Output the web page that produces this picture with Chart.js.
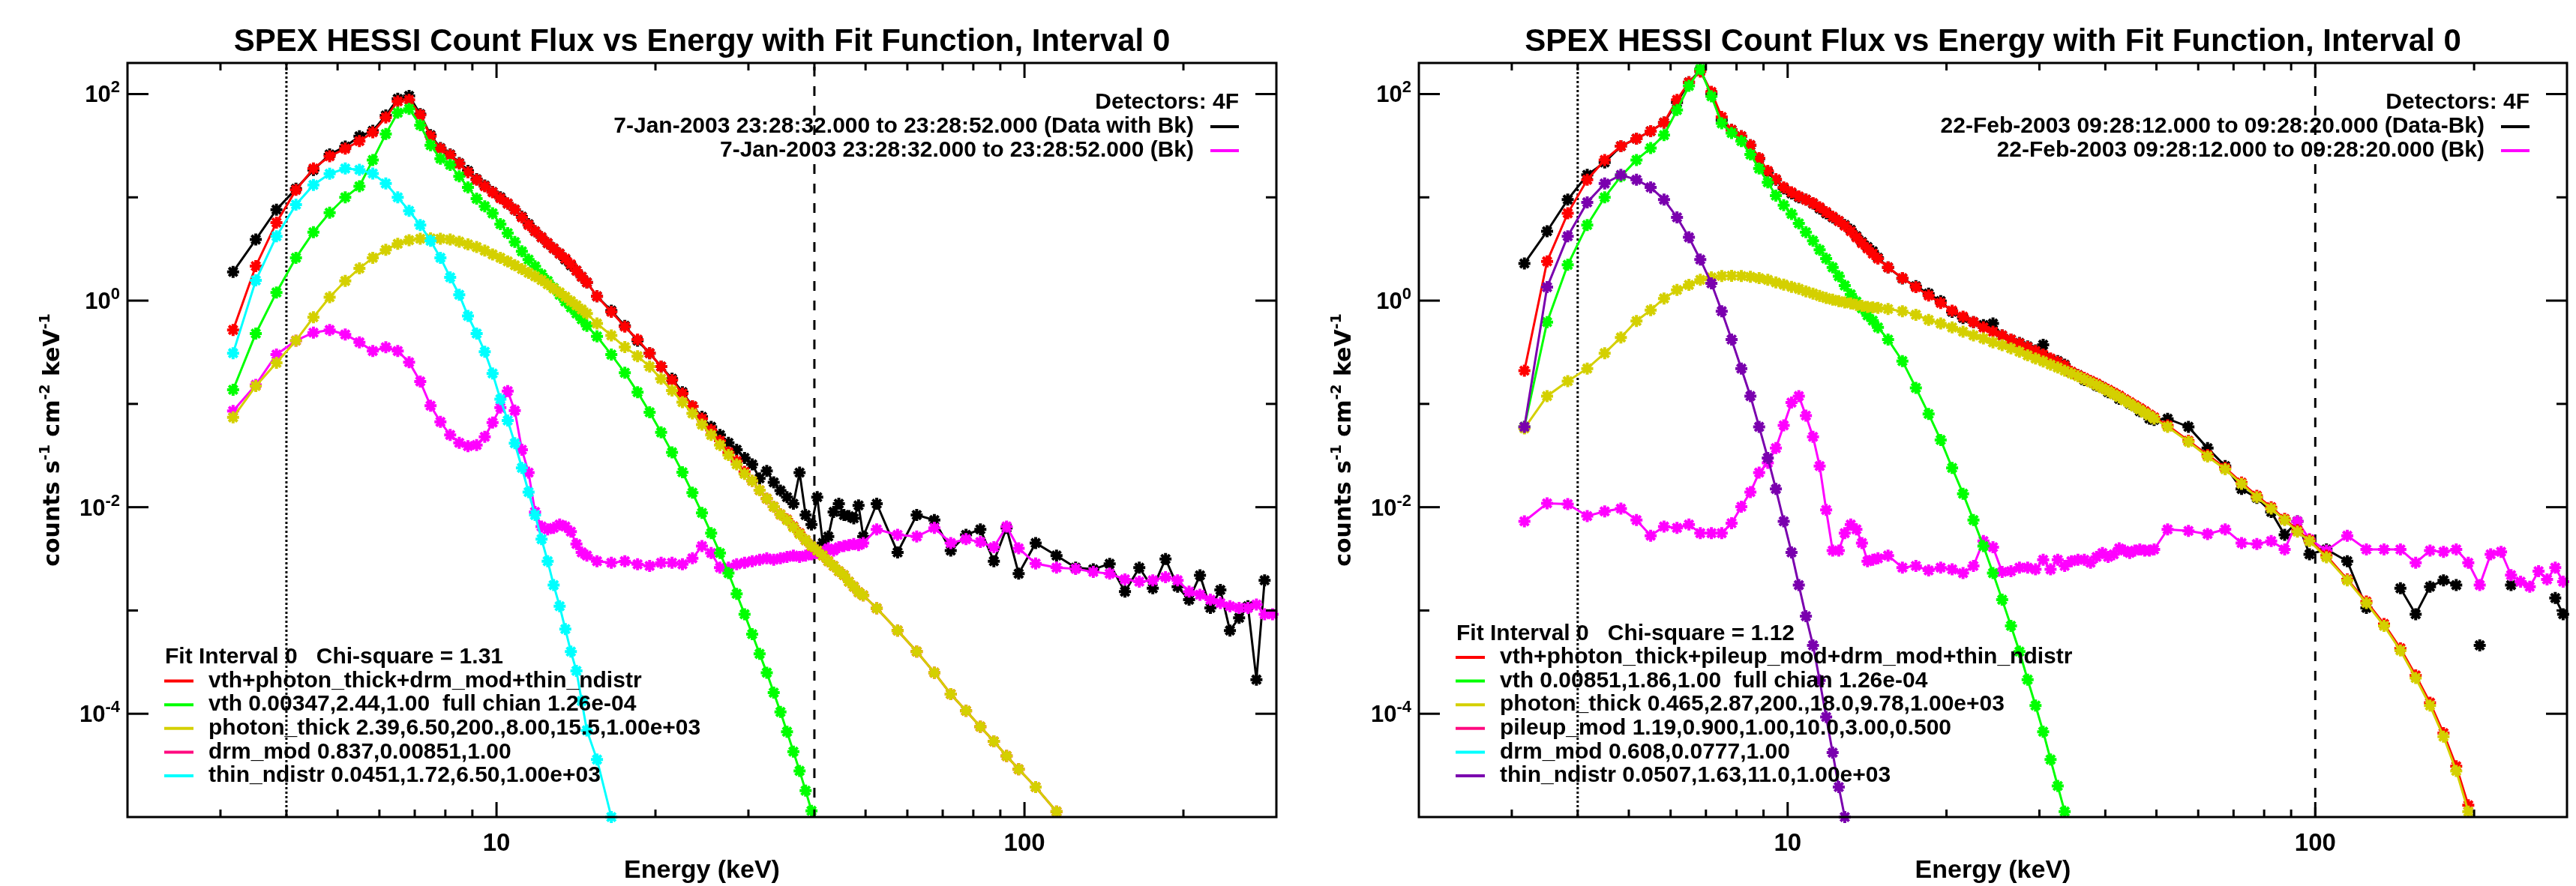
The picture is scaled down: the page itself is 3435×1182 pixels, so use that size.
<!DOCTYPE html>
<html>
<head>
<meta charset="utf-8">
<script src="https://cdn.jsdelivr.net/npm/chart.js@4.4.0/dist/chart.umd.min.js"></script>
<style>
  body { margin: 0; background: #fff; }
  #wrap { position: relative; width: 3435px; height: 1182px; }
  canvas { position: absolute; top: 0; }
</style>
</head>
<body>
<div id="wrap">
  <canvas id="left" width="1718" height="1182" style="left:0px"></canvas>
  <canvas id="right" width="1717" height="1182" style="left:1718px"></canvas>
</div>
<script>
// energy bin centres (keV), shared by both panels
const energies = [3.17,3.5,3.83,4.17,4.5,4.83,5.17,5.5,5.83,6.17,
  6.5,6.83,7.17,7.5,7.83,8.17,8.5,8.83,9.17,9.5,
  9.83,10.17,10.5,10.83,11.17,11.5,11.83,12.17,12.5,12.83,
  13.17,13.5,13.83,14.17,14.5,14.83,15.5,16.5,17.5,18.5,
  19.5,20.5,21.5,22.5,23.5,24.5,25.5,26.5,27.5,28.5,
  29.5,30.5,31.5,32.5,33.5,34.5,35.5,36.5,37.5,38.5,
  39.5,40.5,41.5,42.5,43.5,44.5,45.5,46.5,47.5,48.5,
  49.5,52.5,57.5,62.5,67.5,72.5,77.5,82.5,87.5,92.5,
  97.5,105,115,125,135,145,155,165,175,185,
  195,205,215,225,235,245,255,265,275,285,
  295];

// left panel: 7-Jan-2003
const leftData = [1.9,3.9,7.6,12.1,18.4,26,31,39,44,62,
  90,96,64,40,30,26,21.5,18,15,13,
  11.3,10,8.7,7.6,6.5,5.5,4.7,4.1,3.6,3.2,
  2.85,2.5,2.2,1.95,1.7,1.5,1.1,0.8,0.57,0.41,
  0.31,0.23,0.175,0.13,0.095,0.075,0.06,0.05,0.042,0.036,
  0.03,0.026,0.019,0.0224,0.0174,0.0145,0.0125,0.0108,0.0216,0.0084,
  0.0068,0.0125,0.0045,0.0052,0.009,0.0108,0.0084,0.0082,0.0078,0.0104,
  0.0052,0.0108,0.00365,0.0084,0.0075,0.0038,0.0054,0.0061,0.003,0.0063,
  0.00227,0.0045,0.0034,0.0026,0.0025,0.00283,0.00152,0.0026,0.00164,0.00315,
  0.0017,0.00127,0.00219,0.00106,0.00158,0.00064,0.00085,0.0011,0.000214,0.00196,
  null];
const leftBk = [0.0855,0.153,0.30,0.41,0.49,0.52,0.47,0.395,0.325,0.354,
  0.325,0.253,0.165,0.096,0.067,0.05,0.042,0.039,0.04,0.048,
  0.066,0.092,0.133,0.086,0.036,0.0216,0.009,0.0065,0.0061,0.0063,
  0.0068,0.0065,0.0058,0.0044,0.00365,0.0034,0.003,0.0029,0.003,0.0028,
  0.0027,0.0029,0.0029,0.0028,0.0032,0.0042,0.0036,0.0026,0.0026,0.0028,
  0.0029,0.003,0.0031,0.0032,0.0031,0.0032,0.0033,0.0034,0.0033,0.0034,
  0.0035,0.0036,0.0037,0.004,0.0038,0.0041,0.0042,0.0043,0.0044,0.0043,
  0.0045,0.0061,0.0054,0.0052,0.0063,0.0045,0.0049,0.0046,0.0041,0.0065,
  0.004,0.00285,0.0026,0.00253,0.00236,0.00227,0.002,0.0019,0.00196,0.0021,
  0.00196,0.00152,0.00142,0.00127,0.00118,0.0011,0.00106,0.00106,0.00114,0.00092,
  0.00092];
const leftTotal = [0.52,2.16,5.7,11.8,19,25,29.6,35,42.6,59.4,
  85,88,63,39,29.6,25.7,21.2,17.5,14.8,12.8,
  11.2,9.8,8.7,7.6,6.4,5.4,4.7,4.1,3.6,3.2,
  2.85,2.55,2.25,1.95,1.7,1.5,1.1,0.78,0.56,0.42,
  0.31,0.23,0.17,0.126,0.095,0.072,0.056,0.044,0.034,0.028,
  0.022,0.018,0.0146,0.0121,0.0101,0.0085,0.0076,0.0065,0.0056,0.0048,
  0.0042,0.0038,0.0034,0.003,0.0027,0.0024,0.0022,0.0019,0.0017,0.0015,
  0.0014,0.00105,0.00064,0.0004,0.00025,0.000155,0.000107,7.5e-5,5.4e-5,3.9e-5,
  2.9e-5,1.95e-5,1.13e-5,null,null,null,null,null,null,null,
  null,null,null,null,null,null,null,null,null,null,
  null];
const leftVth = [0.137,0.48,1.2,2.6,4.6,7.1,10,12.8,23,41,
  66,72,50,32,23.7,20.6,16,12.5,9.7,8.2,
  7.0,5.5,4.5,3.7,3.0,2.5,2.15,1.8,1.55,1.33,
  1.14,0.98,0.86,0.75,0.66,0.57,0.45,0.3,0.2,0.13,
  0.083,0.053,0.034,0.0218,0.0138,0.0088,0.0056,0.0036,0.0023,0.00145,
  0.00092,0.00059,0.00038,0.00025,0.00016,0.000104,6.7e-5,4.3e-5,2.8e-5,1.8e-5,
  1.15e-5,null,null,null,null,null,null,null,null,null,
  null,null,null,null,null,null,null,null,null,null,
  null,null,null,null,null,null,null,null,null,null,
  null,null,null,null,null,null,null,null,null,null,
  null];
const leftThick = [0.074,0.149,0.25,0.41,0.69,1.08,1.55,2.05,2.6,3.1,
  3.55,3.85,3.97,4.0,3.97,3.9,3.72,3.5,3.3,3.05,
  2.8,2.6,2.4,2.2,2.02,1.86,1.72,1.58,1.44,1.31,
  1.2,1.09,0.99,0.9,0.82,0.75,0.6,0.46,0.355,0.29,
  0.23,0.175,0.135,0.104,0.081,0.063,0.05,0.04,0.032,0.026,
  0.021,0.018,0.0146,0.0121,0.0101,0.0085,0.0075,0.0064,0.0055,0.0048,
  0.0042,0.0038,0.0034,0.003,0.0027,0.0024,0.0022,0.0019,0.0017,0.0015,
  0.0014,0.00105,0.00064,0.0004,0.00025,0.000155,0.000107,7.5e-5,5.4e-5,3.9e-5,
  2.9e-5,1.95e-5,1.13e-5,null,null,null,null,null,null,null,
  null,null,null,null,null,null,null,null,null,null,
  null];
const leftThin = [0.31,1.57,4.2,8.5,13.2,16.9,19,18.5,17,13.6,
  10,7.4,5.4,3.8,2.6,1.68,1.14,0.71,0.48,0.32,
  0.197,0.111,0.069,0.0416,0.024,0.014,0.0084,0.0049,0.003,0.00176,
  0.0011,0.00066,0.0004,0.00026,0.000133,6.9e-5,3.6e-5,1.0e-5,null,null,
  null,null,null,null,null,null,null,null,null,null,
  null,null,null,null,null,null,null,null,null,null,
  null,null,null,null,null,null,null,null,null,null,
  null,null,null,null,null,null,null,null,null,null,
  null,null,null,null,null,null,null,null,null,null,
  null,null,null,null,null,null,null,null,null,null,
  null];

// right panel: 22-Feb-2003
const rightData = [2.29,4.7,9.5,16.5,21.8,31.3,37,43.7,53,83,
  130,171,101,56,45,39,32,23.7,17.5,14.8,
  12.2,10.9,10,9.5,8.7,7.8,7.0,6.4,5.9,5.4,
  4.85,4.2,3.7,3.3,3.0,2.6,2.1,1.64,1.38,1.17,
  0.99,0.78,0.68,0.62,0.58,0.6,0.46,0.42,0.39,0.36,
  0.33,0.374,0.27,0.26,0.24,0.2,0.19,0.17,0.165,0.15,
  0.145,0.13,0.125,0.112,0.11,0.1,0.095,0.085,0.083,0.072,
  0.07,0.0718,0.06,0.0373,0.025,0.015,0.0123,0.009,0.0054,0.0073,
  0.0035,0.0039,0.003,0.00106,null,0.00164,0.00092,0.0017,0.00196,0.00176,
  null,0.00046,null,null,0.00176,null,null,null,null,0.00132,
  0.00092];
const rightBk = [0.0073,0.0109,0.0107,0.0082,0.0091,0.0097,0.0075,0.0053,0.0065,0.0063,
  0.0068,0.0056,0.0056,0.0056,0.007,0.0101,0.014,0.0216,0.0269,0.0373,
  0.062,0.103,0.119,0.077,0.048,0.025,0.0094,0.0038,0.0038,0.0056,
  0.0068,0.0061,0.0045,0.003,0.0031,0.0032,0.0034,0.0026,0.0027,0.00244,
  0.0026,0.0025,0.0023,0.0027,0.0047,0.0041,0.00236,0.0024,0.0026,0.0026,
  0.0025,0.0031,0.0025,0.0031,0.0027,0.003,0.0031,0.0031,0.0029,0.0033,
  0.0036,0.0033,0.0035,0.004,0.0038,0.0036,0.0038,0.0039,0.0038,0.0038,
  0.0039,0.0061,0.0059,0.0055,0.0061,0.0045,0.0044,0.0047,0.0039,0.0073,
  0.0049,0.0038,0.0053,0.0039,0.0039,0.0039,0.0029,0.0038,0.0037,0.0039,
  0.0029,0.00176,0.0035,0.0037,0.0022,0.0019,0.0017,0.0024,0.002,0.0026,
  0.0019];
const rightTotal = [0.21,2.4,7.0,14.8,23,31.3,37,43.7,53,88,
  130,165,105,60,45,39,32,24,18,15,
  12.5,11.2,10.2,9.5,8.8,8.0,7.2,6.5,5.9,5.3,
  4.7,4.1,3.6,3.2,2.85,2.55,2.1,1.65,1.35,1.12,
  0.95,0.8,0.7,0.62,0.55,0.5,0.46,0.42,0.385,0.355,
  0.325,0.3,0.275,0.255,0.235,0.205,0.19,0.178,0.167,0.157,
  0.146,0.137,0.128,0.12,0.111,0.104,0.097,0.091,0.085,0.079,
  0.074,0.062,0.044,0.032,0.024,0.0173,0.0129,0.01,0.0077,0.006,
  0.0048,0.0034,0.002,0.00122,0.00074,0.00043,0.000235,0.000128,6.5e-5,3.1e-5,
  1.3e-5,null,null,null,null,null,null,null,null,null,
  null];
const rightVth = [0.06,0.62,2.22,5.4,10,16,23,30,40,70,
  120,175,95,52,42,35,26,19,14,10.4,
  8.4,6.9,5.6,4.6,3.8,3.1,2.55,2.1,1.72,1.4,
  1.15,0.98,0.84,0.72,0.64,0.55,0.42,0.26,0.143,0.08,
  0.0448,0.024,0.0135,0.0075,0.0042,0.0023,0.00127,0.00071,0.0004,0.000214,
  0.00012,6.7e-5,3.6e-5,2.0e-5,1.13e-5,null,null,null,null,null,
  null,null,null,null,null,null,null,null,null,null,
  null,null,null,null,null,null,null,null,null,null,
  null,null,null,null,null,null,null,null,null,null,
  null,null,null,null,null,null,null,null,null,null,
  null];
const rightThick = [0.058,0.119,0.166,0.22,0.31,0.44,0.635,0.81,1.05,1.27,
  1.42,1.59,1.68,1.73,1.74,1.73,1.7,1.65,1.59,1.5,
  1.43,1.36,1.3,1.23,1.17,1.11,1.06,1.02,0.99,0.96,
  0.94,0.91,0.89,0.87,0.86,0.85,0.83,0.79,0.73,0.65,
  0.6,0.55,0.5,0.46,0.43,0.395,0.37,0.345,0.32,0.295,
  0.275,0.258,0.24,0.225,0.21,0.197,0.185,0.173,0.162,0.152,
  0.142,0.133,0.124,0.116,0.108,0.101,0.094,0.088,0.082,0.077,
  0.072,0.060,0.043,0.031,0.0233,0.0168,0.0125,0.0097,0.0075,0.0058,
  0.0047,0.00327,0.00196,0.00118,0.00071,0.00041,0.000222,0.00012,6.0e-5,2.8e-5,
  1.13e-5,null,null,null,null,null,null,null,null,null,
  null];
const rightThin = [0.06,1.35,4.2,8.95,13.6,16.5,14.8,12.5,9.5,6.4,
  4.1,2.5,1.47,0.79,0.42,0.22,0.119,0.06,0.03,0.015,
  0.0073,0.00365,0.00176,0.00088,0.00046,0.00021,9.3e-5,4.2e-5,1.95e-5,1.0e-5,
  null,null,null,null,null,null,null,null,null,null,
  null,null,null,null,null,null,null,null,null,null,
  null,null,null,null,null,null,null,null,null,null,
  null,null,null,null,null,null,null,null,null,null,
  null,null,null,null,null,null,null,null,null,null,
  null,null,null,null,null,null,null,null,null,null,
  null,null,null,null,null,null,null,null,null,null,
  null];

// axis ticks
const xMajor = [10, 100];
const xMinor = [3, 4, 5, 6, 7, 8, 9, 20, 30, 40, 50, 60, 70, 80, 90, 200];
const xLabels = [10, 100];
const yExponents = [2, 1, 0, -1, -2, -3, -4];
const yLabelExp = [2, 0, -2, -4];

const titleText = 'SPEX HESSI Count Flux vs Energy with Fit Function, Interval 0';
const FONT = '"Liberation Sans", Arial, Helvetica, sans-serif';
const YFONT = '"DejaVu Sans", "Liberation Sans", sans-serif';

const BLACK = '#000000', MAGENTA = '#FF00FF', RED = '#FF0000', GREEN = '#00FF00',
  YELLOW = '#D4D000', PINK = '#FF0A80', CYAN = '#00FFFF', PURPLE = '#7A00AE';

function makeFrame(p) {
  const seg = (ctx, x1, y1, x2, y2) => { ctx.beginPath(); ctx.moveTo(x1, y1); ctx.lineTo(x2, y2); ctx.stroke(); };
  return {
    id: 'idlFrame',
    beforeDatasetsDraw(chart) {
      const { ctx, chartArea: a, scales: { x } } = chart;
      ctx.save();
      ctx.strokeStyle = '#000';
      ctx.lineWidth = 3;
      let px = x.getPixelForValue(p.dotted);
      ctx.setLineDash([3, 3]);
      seg(ctx, px, a.top, px, a.bottom);
      px = x.getPixelForValue(p.dashed);
      ctx.setLineDash([13, 13]);
      seg(ctx, px, a.bottom, px, a.top);
      ctx.restore();
    },
    afterDraw(chart) {
      const { ctx, chartArea: a, scales: { x, y } } = chart;
      ctx.save();
      ctx.strokeStyle = '#000';
      ctx.fillStyle = '#000';
      ctx.lineWidth = 3;
      ctx.strokeRect(a.left, a.top, a.right - a.left, a.bottom - a.top);

      // ticks on all four sides, pointing in
      xMajor.concat(xMinor).forEach(v => {
        const px = x.getPixelForValue(v);
        const len = xMajor.includes(v) ? 20 : 10;
        seg(ctx, px, a.bottom, px, a.bottom - len);
        seg(ctx, px, a.top, px, a.top + len);
      });
      yExponents.forEach(e => {
        const py = y.getPixelForValue(Math.pow(10, e));
        const len = e % 2 === 0 ? 28 : 14;
        seg(ctx, a.left, py, a.left + len, py);
        seg(ctx, a.right, py, a.right - len, py);
      });

      // y tick labels 10^n
      yLabelExp.forEach(e => {
        const py = y.getPixelForValue(Math.pow(10, e));
        ctx.font = `bold 22px ${FONT}`;
        const sup = String(e);
        const sw = ctx.measureText(sup).width;
        const xr = a.left - 10 - sw;
        ctx.textAlign = 'left';
        ctx.textBaseline = 'alphabetic';
        ctx.fillText(sup, xr, py - 2);
        ctx.font = `bold 31px ${FONT}`;
        ctx.textAlign = 'right';
        ctx.fillText('10', xr, py + 11);
      });

      // x tick labels
      ctx.font = `bold 33px ${FONT}`;
      ctx.textAlign = 'center';
      ctx.textBaseline = 'alphabetic';
      xLabels.forEach(v => ctx.fillText(String(v), x.getPixelForValue(v), a.bottom + 45));

      // axis titles
      ctx.font = `bold 34px ${FONT}`;
      ctx.fillText('Energy (keV)', (a.left + a.right) / 2, a.bottom + 81);
      drawYLabel(ctx, a.left - 91, (a.top + a.bottom) / 2);

      // title
      ctx.font = `bold 42px ${FONT}`;
      ctx.fillText(titleText, (a.left + a.right) / 2, a.top - 16);

      // top right legend
      ctx.font = `bold 30px ${FONT}`;
      ctx.textAlign = 'right';
      ctx.textBaseline = 'middle';
      ctx.fillText(p.detectors, a.right - 50, a.top + 53);
      p.intervals.forEach((it, i) => {
        const yy = a.top + 85 + i * 32;
        ctx.fillStyle = '#000';
        ctx.fillText(it[1], a.right - 110, yy);
        ctx.strokeStyle = it[0];
        ctx.lineWidth = 4;
        seg(ctx, a.right - 88, yy, a.right - 50, yy);
      });

      // bottom left fit legend
      ctx.textAlign = 'left';
      const n = p.fit.length;
      const y0 = a.bottom - 55 - n * 31.6;
      ctx.fillStyle = '#000';
      ctx.fillText(p.fitHeader, a.left + 50, y0);
      p.fit.forEach((f, i) => {
        const yy = y0 + (i + 1) * 31.6;
        ctx.strokeStyle = f[0];
        ctx.lineWidth = 4;
        seg(ctx, a.left + 49, yy, a.left + 88, yy);
        ctx.fillText(f[1], a.left + 108, yy);
      });
      ctx.restore();
    }
  };
}

function drawYLabel(ctx, cx, cy) {
  const parts = [['counts s', 0], ['-1', 1], [' cm', 0], ['-2', 1], [' keV', 0], ['-1', 1]];
  const big = `bold 30px ${YFONT}`, small = `bold 19px ${YFONT}`;
  let total = 0;
  parts.forEach(s => { ctx.font = s[1] ? small : big; total += ctx.measureText(s[0]).width; });
  ctx.save();
  ctx.translate(cx, cy);
  ctx.rotate(-Math.PI / 2);
  ctx.textAlign = 'left';
  ctx.textBaseline = 'alphabetic';
  let xx = -total / 2;
  parts.forEach(s => {
    ctx.font = s[1] ? small : big;
    ctx.fillText(s[0], xx, s[1] ? -13 : 0);
    xx += ctx.measureText(s[0]).width;
  });
  ctx.restore();
}

function makeChart(id, pad, sets, p) {
  return new Chart(document.getElementById(id), {
    type: 'line',
    data: {
      datasets: sets.map((s, i) => ({
        label: s[2],
        data: energies.map((e, k) => ({ x: e, y: s[1][k] })),
        order: -i,
        borderColor: s[0],
        backgroundColor: s[0],
        pointBorderColor: s[0],
        pointBackgroundColor: s[0],
        borderWidth: 3,
        pointStyle: 'star',
        pointRadius: 8,
        pointBorderWidth: 4,
        tension: 0,
        fill: false,
        spanGaps: false,
        clip: 8
      }))
    },
    options: {
      responsive: false,
      animation: false,
      devicePixelRatio: 1,
      events: [],
      layout: { padding: pad },
      plugins: { legend: { display: false }, tooltip: { enabled: false }, title: { display: false } },
      scales: {
        x: { type: 'logarithmic', min: 2, max: 300, display: false },
        y: { type: 'logarithmic', min: 1e-5, max: 200, display: false }
      }
    },
    plugins: [makeFrame(p)]
  });
}

// drawn bottom to top
makeChart('left', { left: 170, right: 16, top: 84, bottom: 92 }, [
  [BLACK, leftData, 'data'],
  [MAGENTA, leftBk, 'bk'],
  [RED, leftTotal, 'total'],
  [GREEN, leftVth, 'vth'],
  [YELLOW, leftThick, 'photon_thick'],
  [CYAN, leftThin, 'thin_ndistr']
], {
  dotted: 4, dashed: 40,
  detectors: 'Detectors: 4F',
  intervals: [
    [BLACK, '7-Jan-2003 23:28:32.000 to 23:28:52.000 (Data with Bk)'],
    [MAGENTA, '7-Jan-2003 23:28:32.000 to 23:28:52.000 (Bk)']
  ],
  fitHeader: 'Fit Interval 0   Chi-square = 1.31',
  fit: [
    [RED, 'vth+photon_thick+drm_mod+thin_ndistr'],
    [GREEN, 'vth 0.00347,2.44,1.00  full chian 1.26e-04'],
    [YELLOW, 'photon_thick 2.39,6.50,200.,8.00,15.5,1.00e+03'],
    [PINK, 'drm_mod 0.837,0.00851,1.00'],
    [CYAN, 'thin_ndistr 0.0451,1.72,6.50,1.00e+03']
  ]
});

makeChart('right', { left: 174, right: 12, top: 84, bottom: 92 }, [
  [BLACK, rightData, 'data'],
  [MAGENTA, rightBk, 'bk'],
  [RED, rightTotal, 'total'],
  [GREEN, rightVth, 'vth'],
  [YELLOW, rightThick, 'photon_thick'],
  [PURPLE, rightThin, 'thin_ndistr']
], {
  dotted: 4, dashed: 100,
  detectors: 'Detectors: 4F',
  intervals: [
    [BLACK, '22-Feb-2003 09:28:12.000 to 09:28:20.000 (Data-Bk)'],
    [MAGENTA, '22-Feb-2003 09:28:12.000 to 09:28:20.000 (Bk)']
  ],
  fitHeader: 'Fit Interval 0   Chi-square = 1.12',
  fit: [
    [RED, 'vth+photon_thick+pileup_mod+drm_mod+thin_ndistr'],
    [GREEN, 'vth 0.00851,1.86,1.00  full chian 1.26e-04'],
    [YELLOW, 'photon_thick 0.465,2.87,200.,18.0,9.78,1.00e+03'],
    [PINK, 'pileup_mod 1.19,0.900,1.00,10.0,3.00,0.500'],
    [CYAN, 'drm_mod 0.608,0.0777,1.00'],
    [PURPLE, 'thin_ndistr 0.0507,1.63,11.0,1.00e+03']
  ]
});
</script>
</body>
</html>
